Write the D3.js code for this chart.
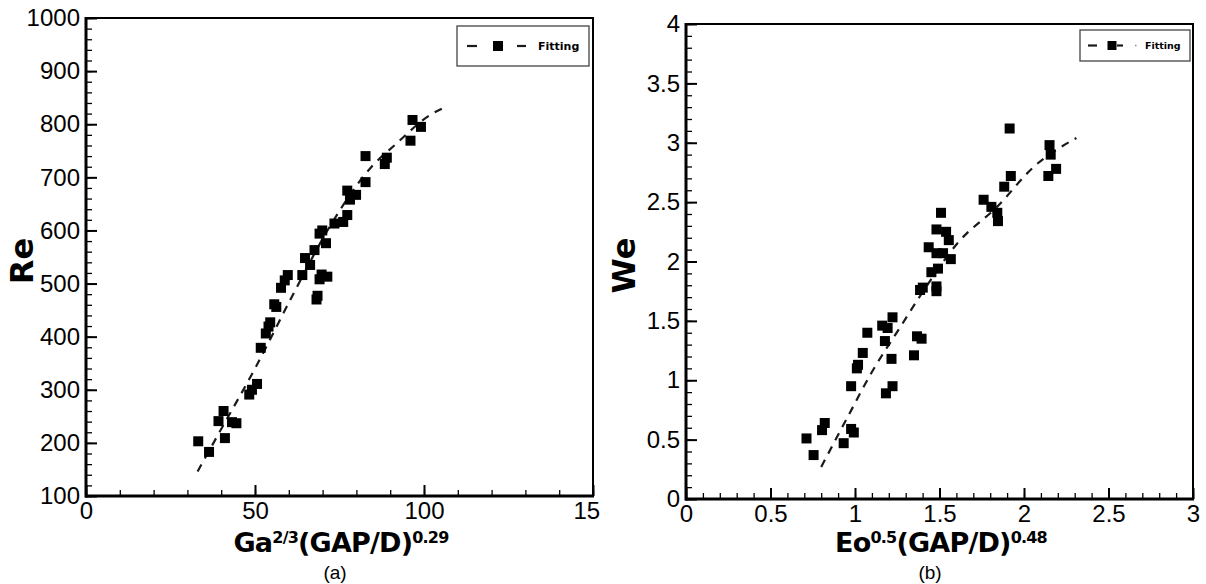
<!DOCTYPE html>
<html>
<head>
<meta charset="utf-8">
<script src="https://cdn.jsdelivr.net/npm/d3@7/dist/d3.min.js"></script>
<style>
  body { margin: 0; background: #fff; }
  .tick text { font-family: "Liberation Sans", Arial, sans-serif; font-size: 24px; fill: #000; }
  .title { font-family: "DejaVu Sans", Verdana, sans-serif; font-weight: bold; fill: #000; }
  .caption { font-family: "Liberation Sans", Arial, sans-serif; font-size: 19px; fill: #000; }
  .legend-text { font-family: "DejaVu Sans", Verdana, sans-serif; font-weight: bold; fill: #000; }
</style>
</head>
<body>
<svg id="chart" width="1206" height="584"></svg>
<script>
// Panel (a): Re against Ga^{2/3}(GAP/D)^{0.29}
const reX = [33.2, 36.4, 39.2, 40.7, 41.1, 43.2, 44.5, 48.3, 49.1, 50.6, 51.7, 53.2, 54.0, 54.5,
             55.7, 56.3, 57.7, 58.8, 59.7, 64.0, 64.8, 66.3, 67.6, 68.2, 68.5, 69.1, 69.7, 69.1,
             69.9, 71.0, 71.4, 73.5, 76.1, 77.3, 77.3, 78.1, 79.9, 82.7, 82.7, 88.4, 89.0, 96.0,
             96.6, 99.1];
const reY = [203, 183, 241, 260, 209, 239, 237, 291, 300, 311, 379, 406, 419, 427,
             461, 456, 492, 506, 516, 516, 548, 535, 563, 470, 477, 508, 517, 594,
             600, 576, 513, 613, 616, 629, 675, 658, 667, 740, 691, 725, 737, 769,
             808, 795];
const reFitX = [33, 40, 50, 61.3, 72.1, 84.5, 91.4, 102.2, 105.5];
const reFitY = [146, 226, 340, 480, 607, 720, 761, 819, 830];
const reXTicks = [0, 50, 100, 150];
const reYTicks = [100, 200, 300, 400, 500, 600, 700, 800, 900, 1000];

// Panel (b): We against Eo^{0.5}(GAP/D)^{0.48}
const weX = [0.713, 0.755, 0.805, 0.821, 0.933, 0.977, 0.993, 0.977, 1.011, 1.018, 1.046, 1.073,
             1.161, 1.177, 1.193, 1.222, 1.183, 1.222, 1.216, 1.349, 1.367, 1.394, 1.385, 1.401,
             1.436, 1.452, 1.482, 1.482, 1.491, 1.482, 1.482, 1.509, 1.521, 1.539, 1.555, 1.567,
             1.761, 1.807, 1.842, 1.846, 1.883, 1.915, 1.922, 2.144, 2.151, 2.158, 2.190];
const weY = [0.51, 0.37, 0.58, 0.64, 0.47, 0.59, 0.56, 0.95, 1.10, 1.13, 1.23, 1.40,
             1.46, 1.33, 1.44, 1.53, 0.89, 0.95, 1.18, 1.21, 1.37, 1.35, 1.76, 1.78,
             2.12, 1.91, 1.79, 1.75, 1.94, 2.27, 2.07, 2.41, 2.07, 2.25, 2.18, 2.02,
             2.52, 2.46, 2.41, 2.34, 2.63, 3.12, 2.72, 2.72, 2.98, 2.90, 2.78];
const weFitX = [0.8, 0.96, 1.1, 1.26, 1.39, 1.61, 1.84, 2.06, 2.31];
const weFitY = [0.27, 0.70, 1.07, 1.43, 1.72, 2.16, 2.46, 2.80, 3.04];
const weXTicks = [0, 0.5, 1, 1.5, 2, 2.5, 3];
const weYTicks = [0, 0.5, 1, 1.5, 2, 2.5, 3, 3.5, 4];

const svg = d3.select("#chart");

// Each panel is clipped to its own half of the page
svg.append("defs").append("clipPath").attr("id", "leftHalf")
  .append("rect").attr("x", 0).attr("y", 0).attr("width", 600).attr("height", 584);

function drawPanel(cfg) {
  const g = svg.append("g");
  if (cfg.clip) g.attr("clip-path", "url(#" + cfg.clip + ")");

  const x = d3.scaleLinear().domain(cfg.xDomain).range([cfg.left, cfg.right]);
  const y = d3.scaleLinear().domain(cfg.yDomain).range([cfg.bottom, cfg.top]);

  // minor ticks
  g.append("g").attr("transform", `translate(0,${cfg.bottom})`)
    .call(d3.axisBottom(x).tickValues(x.ticks(cfg.xMinor)).tickSize(-6).tickFormat(""))
    .call(a => a.select(".domain").remove())
    .selectAll("line").attr("stroke", "#000").attr("stroke-width", 1.3);
  g.append("g").attr("transform", `translate(${cfg.left},0)`)
    .call(d3.axisLeft(y).tickValues(y.ticks(cfg.yMinor)).tickSize(-6).tickFormat(""))
    .call(a => a.select(".domain").remove())
    .selectAll("line").attr("stroke", "#000").attr("stroke-width", 1.3);

  // major ticks with labels
  const xa = g.append("g").attr("transform", `translate(0,${cfg.bottom})`)
    .call(d3.axisBottom(x).tickValues(cfg.xTicks).tickSize(-11).tickPadding(6).tickFormat(d3.format("")));
  xa.select(".domain").remove();
  xa.selectAll("line").attr("stroke", "#000").attr("stroke-width", 2);
  xa.selectAll("text").attr("fill", "#000");
  const ya = g.append("g").attr("transform", `translate(${cfg.left},0)`)
    .call(d3.axisLeft(y).tickValues(cfg.yTicks).tickSize(-11).tickPadding(6).tickFormat(d3.format("")));
  ya.select(".domain").remove();
  ya.selectAll("line").attr("stroke", "#000").attr("stroke-width", 2);
  ya.selectAll("text").attr("fill", "#000");

  // frame
  g.append("rect")
    .attr("x", cfg.left).attr("y", cfg.top)
    .attr("width", cfg.right - cfg.left).attr("height", cfg.bottom - cfg.top)
    .attr("fill", "none").attr("stroke", "#000").attr("stroke-width", 2);
  g.append("line").attr("x1", cfg.left).attr("x2", cfg.left).attr("y1", cfg.top - 1).attr("y2", cfg.bottom + 1.5)
    .attr("stroke", "#000").attr("stroke-width", 3);
  g.append("line").attr("x1", cfg.left - 1).attr("x2", cfg.right + 1).attr("y1", cfg.bottom).attr("y2", cfg.bottom)
    .attr("stroke", "#000").attr("stroke-width", 3);

  // fitted curve
  const fit = cfg.fitX.map((v, i) => [v, cfg.fitY[i]]);
  g.append("path")
    .datum(fit)
    .attr("d", d3.line().x(d => x(d[0])).y(d => y(d[1])).curve(d3.curveMonotoneX))
    .attr("fill", "none").attr("stroke", "#1a1a1a").attr("stroke-width", 2.2)
    .attr("stroke-dasharray", "8,7");

  // measured points
  const pts = cfg.px.map((v, i) => [v, cfg.py[i]]);
  const s = 10;
  g.append("g").selectAll("rect").data(pts).join("rect")
    .attr("x", d => x(d[0]) - s / 2).attr("y", d => y(d[1]) - s / 2)
    .attr("width", s).attr("height", s).attr("fill", "#000");

  // axis titles
  g.append("text").attr("class", "title")
    .attr("transform", `translate(${cfg.yTitleX},${(cfg.top + cfg.bottom) / 2 + 4}) rotate(-90)`)
    .attr("text-anchor", "middle").attr("font-size", 32)
    .text(cfg.yTitle);

  const xt = g.append("text").attr("class", "title")
    .attr("x", cfg.xTitleX).attr("y", 552)
    .attr("text-anchor", "middle").attr("font-size", 27).attr("letter-spacing", -0.8);
  cfg.xTitle.forEach(part => {
    const t = xt.append("tspan").text(part.t);
    if (part.sup) t.attr("font-size", 16).attr("dy", -9);
    else if (part.after) t.attr("dy", 9);
  });

  g.append("text").attr("class", "caption")
    .attr("x", cfg.captionX).attr("y", 579).attr("text-anchor", "middle")
    .text(cfg.caption);

  // legend
  const L = cfg.legend;
  g.append("rect").attr("x", L.x).attr("y", L.y).attr("width", L.w).attr("height", L.h)
    .attr("fill", "#fff").attr("stroke", "#444").attr("stroke-width", 1.3);
  const ly = L.y + L.h / 2;
  L.dashes.forEach(dd => {
    g.append("line").attr("x1", dd[0]).attr("x2", dd[1]).attr("y1", ly).attr("y2", ly)
      .attr("stroke", "#1a1a1a").attr("stroke-width", 2.2);
  });
  if (L.dotX) {
    g.append("rect").attr("x", L.dotX).attr("y", ly - 0.75).attr("width", 1.5).attr("height", 1.5)
      .attr("fill", "#888");
  }
  g.append("rect").attr("x", L.markX - L.markS / 2).attr("y", ly - L.markS / 2)
    .attr("width", L.markS).attr("height", L.markS).attr("fill", "#000");
  g.append("text").attr("class", "legend-text")
    .attr("x", L.textX).attr("y", ly + L.fs * 0.36).attr("font-size", L.fs)
    .text("Fitting");
}

drawPanel({
  left: 86, right: 593, top: 18, bottom: 496,
  xDomain: [0, 150], yDomain: [100, 1000],
  xTicks: reXTicks, yTicks: reYTicks, xMinor: 15, yMinor: 45,
  px: reX, py: reY, fitX: reFitX, fitY: reFitY,
  yTitle: "Re", yTitleX: 33,
  xTitle: [{t: "Ga"}, {t: "2/3", sup: true}, {t: "(GAP/D)", after: true}, {t: "0.29", sup: true}],
  xTitleX: 341, caption: "(a)", captionX: 335, clip: "leftHalf",
  legend: {x: 457, y: 26, w: 132, h: 40, dashes: [[467, 477], [517, 526]], markX: 498, markS: 10, textX: 538, fs: 11}
});

drawPanel({
  left: 686, right: 1193, top: 24, bottom: 499,
  xDomain: [0, 3], yDomain: [0, 4],
  xTicks: weXTicks, yTicks: weYTicks, xMinor: 30, yMinor: 40,
  px: weX, py: weY, fitX: weFitX, fitY: weFitY,
  yTitle: "We", yTitleX: 635,
  xTitle: [{t: "Eo"}, {t: "0.5", sup: true}, {t: "(GAP/D)", after: true}, {t: "0.48", sup: true}],
  xTitleX: 941, caption: "(b)", captionX: 930, clip: null,
  legend: {x: 1080, y: 30, w: 110, h: 31, dashes: [[1088, 1097], [1117, 1123]], dotX: 1135, markX: 1112, markS: 9, textX: 1145, fs: 9.5}
});
</script>
</body>
</html>
